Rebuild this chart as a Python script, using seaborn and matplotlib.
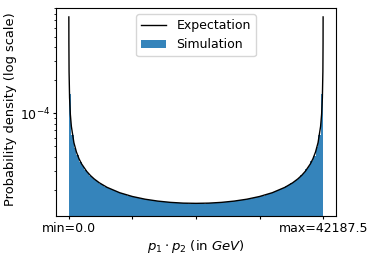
import numpy as np
import seaborn as sns
import matplotlib.pyplot as plt
from matplotlib.ticker import FixedLocator, NullFormatter

x_max = 42187.5  # GeV

# simulated density per bin (in units of 1e-5), 100 equal bins over [0, x_max]
sim_density_e5 = [
    15.1, 6.33, 4.84, 4.15, 3.62, 3.33, 3.04, 2.88, 2.69, 2.59,
    2.45, 2.38, 2.27, 2.22, 2.13, 2.10, 2.02, 1.99, 1.95, 1.90,
    1.88, 1.83, 1.81, 1.77, 1.76, 1.72, 1.71, 1.70, 1.66, 1.66,
    1.63, 1.62, 1.62, 1.59, 1.59, 1.57, 1.58, 1.55, 1.56, 1.54,
    1.54, 1.53, 1.52, 1.53, 1.51, 1.52, 1.51, 1.50, 1.52, 1.50,
    1.51, 1.51, 1.52, 1.50, 1.52, 1.51, 1.53, 1.52, 1.54, 1.53,
    1.55, 1.54, 1.56, 1.57, 1.57, 1.59, 1.60, 1.61, 1.63, 1.63,
    1.66, 1.67, 1.69, 1.72, 1.72, 1.76, 1.77, 1.81, 1.83, 1.87,
    1.90, 1.95, 1.98, 2.04, 2.08, 2.15, 2.20, 2.29, 2.36, 2.47,
    2.56, 2.72, 2.85, 3.07, 3.30, 3.66, 4.10, 4.88, 6.28, 15.0,
]

# expectation curve
expect_x = [4.2, 12.7, 42.2, 126.6, 253.1, 421.9, 843.8, 1265.6, 1687.5, 2109.4,
            2953.1, 3585.9, 4218.8, 5062.5, 6328.1, 8437.5, 10546.9, 12656.3,
            14765.6, 16875.0, 18984.4, 21093.8, 23203.1, 25312.5, 27421.9,
            29531.3, 31640.6, 33750.0, 35859.4, 37125.0, 37968.8, 38601.6,
            39234.4, 40078.1, 40500.0, 40921.9, 41343.8, 41765.6, 41934.4,
            42060.9, 42145.3, 42174.8, 42183.3]
expect_e5 = [75.4, 43.56, 23.87, 13.79, 9.769, 7.582, 5.389, 4.422, 3.850, 3.461,
             2.957, 2.705, 2.515, 2.322, 2.113, 1.886, 1.742, 1.646,
             1.582, 1.540, 1.516, 1.509, 1.516, 1.540, 1.582,
             1.646, 1.742, 1.886, 2.113, 2.322, 2.515, 2.705,
             2.957, 3.461, 3.850, 4.422, 5.389, 7.582, 9.769,
             13.79, 23.87, 43.56, 75.4]

tick_labels = ['min=0.0', '', '', '', f'max={x_max}']

sim_density = np.array(sim_density_e5) * 1e-5
expect_density = np.array(expect_e5) * 1e-5
edges = np.linspace(0, x_max, len(sim_density) + 1)
centers = (edges[:-1] + edges[1:]) / 2

fig = plt.figure(figsize=(3.74, 2.57), dpi=100)
ax = fig.add_axes([0.150, 0.160, 0.748, 0.809])
ax.set_yscale('log')

sns.histplot(x=centers, weights=sim_density, bins=len(sim_density), binrange=(0, x_max),
             stat='count', color='#1f77b4', alpha=0.9, linewidth=0,
             label='Simulation', ax=ax)
sns.lineplot(x=expect_x, y=expect_density, color='black', linewidth=1.0,
             label='Expectation', ax=ax)

ax.set_ylim(1.16e-5, 9.1e-4)
ax.yaxis.set_minor_formatter(NullFormatter())
ax.xaxis.set_major_locator(FixedLocator(np.linspace(0, x_max, 5)))
ax.set_xticklabels(tick_labels)
ax.tick_params(which='major', labelsize=9, length=2.5, pad=2)
ax.tick_params(which='minor', length=1.5)

ax.set_xlabel(r'$p_1 \cdot p_2$ (in $GeV$)', fontsize=9.5)
ax.set_ylabel('Probability density (log scale)', fontsize=9.4)
ax.xaxis.set_label_coords(0.5, -0.105)
ax.yaxis.set_label_coords(-0.138, 0.515)

h, l = ax.get_legend_handles_labels()
order = [l.index('Expectation'), l.index('Simulation')]
ax.legend([h[i] for i in order], [l[i] for i in order], loc='upper center', fontsize=9)

fig.savefig('out.png', dpi=100)
